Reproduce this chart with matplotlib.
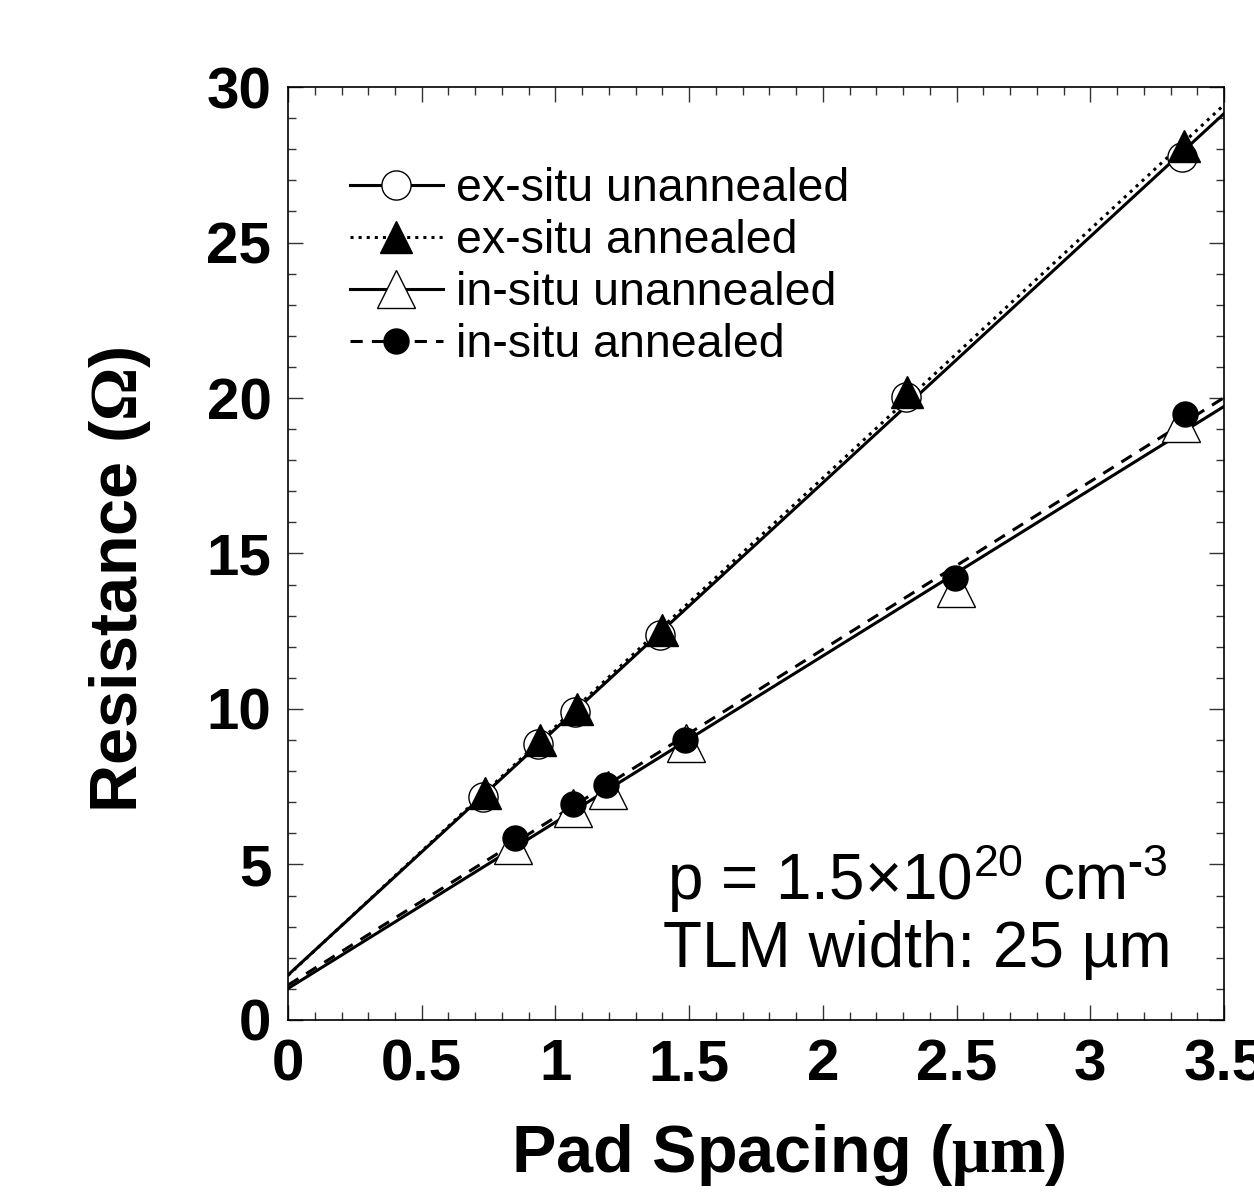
import matplotlib
matplotlib.use('Agg')
import matplotlib.pyplot as plt
from matplotlib.ticker import MultipleLocator, FuncFormatter
import numpy as np

plt.rcParams['font.family'] = ['Liberation Sans', 'DejaVu Sans']
plt.rcParams['font.weight'] = 'bold'
plt.rcParams['xtick.labelsize'] = 42
plt.rcParams['ytick.labelsize'] = 42
plt.rcParams['mathtext.fontset'] = 'custom'
plt.rcParams['mathtext.rm'] = 'Liberation Sans'
plt.rcParams['mathtext.bf'] = 'Liberation Serif:bold'
plt.rcParams['mathtext.default'] = 'regular'

# data
x_ex_un = [0.729, 0.935, 1.073, 1.391, 2.311, 3.343]
y_ex_un = [7.17, 8.87, 9.90, 12.38, 20.03, 27.75]

x_ex_an = [0.735, 0.942, 1.080, 1.398, 2.315, 3.350]
y_ex_an = [7.30, 9.00, 10.00, 12.54, 20.20, 28.10]

x_in_un = [0.841, 1.066, 1.197, 1.488, 2.498, 3.340]
y_in_un = [5.63, 6.82, 7.40, 8.91, 13.89, 19.20]

x_in_an = [0.849, 1.066, 1.189, 1.485, 2.494, 3.354]
y_in_an = [5.85, 6.95, 7.56, 9.00, 14.20, 19.50]

fig = plt.figure(figsize=(12.54, 11.97), dpi=100)
ax = fig.add_axes([0.2297, 0.1479, 0.9761 - 0.2297, 0.9273 - 0.1479])

xfit = np.linspace(0, 3.6, 50)

series = [
    (x_ex_un, y_ex_un, 'ex-situ unannealed', '-', 'o', 'white', 21),
    (x_ex_an, y_ex_an, 'ex-situ annealed', ':', '^', 'black', 23),
    (x_in_un, y_in_un, 'in-situ unannealed', '-', '^', 'white', 27),
    (x_in_an, y_in_an, 'in-situ annealed', (0, (4, 3)), 'o', 'black', 18),
]

# linear TLM fits
for xs, ys, name, ls, mk, fc, ms in series:
    k, b = np.polyfit(xs, ys, 1)
    ax.plot(xfit, k * xfit + b, color='black', ls=ls, lw=2.2, zorder=2)

handles = []
for xs, ys, name, ls, mk, fc, ms in series:
    ax.plot(xs, ys, ls='none', marker=mk, ms=ms, mfc=fc, mec='black',
            mew=1.0, zorder=3)
    h, = ax.plot([], [], color='black', ls=ls, lw=2.2, marker=mk, ms=ms,
                 mfc=fc, mec='black', mew=1.0, label=name)
    handles.append(h)

ax.set_xlim(0, 3.5)
ax.set_ylim(0, 30)
ax.xaxis.set_major_locator(MultipleLocator(0.5))
ax.xaxis.set_minor_locator(MultipleLocator(0.1))
ax.yaxis.set_major_locator(MultipleLocator(5))
ax.yaxis.set_minor_locator(MultipleLocator(1))
ax.xaxis.set_major_formatter(FuncFormatter(lambda v, p: f'{v:g}'))
ax.yaxis.set_major_formatter(FuncFormatter(lambda v, p: f'{v:g}'))

ax.tick_params(which='both', direction='in', top=True, right=True,
               width=1.0, color='#333333')
ax.tick_params(which='major', length=11)
ax.tick_params(which='minor', length=6)
ax.tick_params(axis='x', which='major', pad=13)
ax.tick_params(axis='y', which='major', pad=12)
for sp in ax.spines.values():
    sp.set_linewidth(1.2)

ax.set_xlabel(r'Pad Spacing ($\mathbf{\mu m}$)', fontsize=48,
              fontweight='bold')
ax.xaxis.set_label_coords(0.534, -0.109)
ax.set_ylabel(r'Resistance ($\mathbf{\Omega}$)', fontsize=48,
              fontweight='bold')
ax.yaxis.set_label_coords(-0.144, 0.472)

leg = ax.legend(handles=handles, loc='upper left', frameon=False,
                prop={'size': 33.5, 'weight': 'normal'},
                handlelength=2.0, handletextpad=0.28,
                labelspacing=0.17, borderaxespad=0.0, borderpad=0.0,
                bbox_to_anchor=(0.066, 0.914))

ax.text(0.672, 0.1286, r'p = 1.5×10$^{20}$ cm$^{\text{-}3}$',
        transform=ax.transAxes, fontsize=46, fontweight='normal',
        ha='center', va='baseline')
ax.text(0.672, 0.0568, 'TLM width: 25 µm', transform=ax.transAxes,
        fontsize=46, fontweight='normal', ha='center', va='baseline')

fig.savefig('out.png', dpi=100)
